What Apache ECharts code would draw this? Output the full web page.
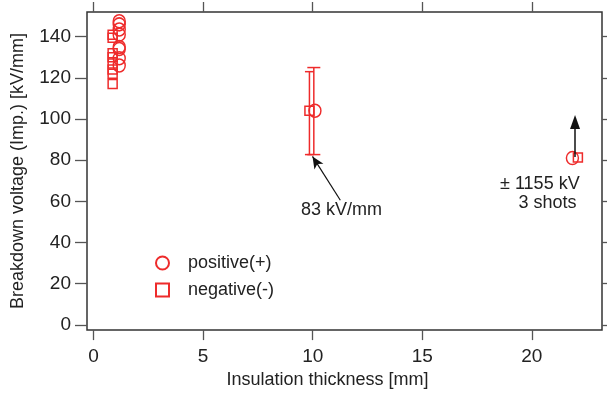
<!DOCTYPE html>
<html>
<head>
<meta charset="utf-8">
<script src="https://cdn.jsdelivr.net/npm/echarts@6/dist/echarts.min.js"></script>
<style>
  html, body { margin: 0; padding: 0; background: #fff; }
  #chart { width: 607px; height: 394px; }
</style>
</head>
<body>
<div id="chart"></div>
<script>
// tick labels
const xTicks = [0, 5, 10, 15, 20];
const yTicks = [0, 20, 40, 60, 80, 100, 120, 140];

// breakdown voltage [kV/mm] vs insulation thickness [mm]
const positive = [
  [1.17, 147.5], [1.17, 146], [1.17, 143.5], [1.17, 141], [1.17, 135],
  [1.17, 134], [1.17, 129.5], [1.17, 126],
  [10.1, 104], [21.85, 81]
];
const negative = [
  [0.87, 141], [0.87, 139.5], [0.87, 132], [0.87, 130], [0.87, 127],
  [0.87, 124], [0.87, 122], [0.87, 117],
  [9.85, 104], [22.1, 81.3]
];
// [x, low, high]
const posErr = [[10.05, 82.7, 125]];
const negErr = [[9.85, 82.7, 123]];

const red = "#ee2b2b";
const font = "Liberation Sans";

const chart = echarts.init(document.getElementById("chart"));

function errBar(capHalf) {
  return function (params, api) {
    const x = api.value(0);
    const lo = api.coord([x, api.value(1)]);
    const hi = api.coord([x, api.value(2)]);
    const st = { stroke: red, lineWidth: 1.5 };
    return {
      type: "group",
      children: [
        { type: "line", shape: { x1: lo[0], y1: lo[1], x2: hi[0], y2: hi[1] }, style: st },
        { type: "line", shape: { x1: lo[0] - capHalf, y1: lo[1], x2: lo[0] + capHalf, y2: lo[1] }, style: st },
        { type: "line", shape: { x1: hi[0] - capHalf, y1: hi[1], x2: hi[0] + capHalf, y2: hi[1] }, style: st }
      ]
    };
  };
}

const tickStyle = { color: "#555", width: 1.3 };

const option = {
  animation: false,
  grid: {
    left: 87, right: 5, top: 12, bottom: 61,
    show: true, borderColor: "#333", borderWidth: 1.5
  },
  legend: {
    orient: "vertical",
    left: 150, top: 249,
    itemWidth: 13, itemHeight: 13, itemGap: 9,
    data: ["positive(+)", "negative(-)"],
    textStyle: { fontFamily: font, fontSize: 18, color: "#222", padding: [0, 0, 0, 14] }
  },
  xAxis: [
    {
      type: "value", min: -0.3, max: 23.2,
      name: "Insulation thickness [mm]", nameLocation: "middle", nameGap: 40,
      nameTextStyle: { fontFamily: font, fontSize: 18, color: "#222", padding: [0, 34, 0, 0] },
      axisLine: { show: false, onZero: false },
      axisTick: { show: true, length: 10, lineStyle: tickStyle, customValues: xTicks },
      axisLabel: { fontFamily: font, fontSize: 19, color: "#222", margin: 17, customValues: xTicks },
      splitLine: { show: false }
    },
    {
      type: "value", min: -0.3, max: 23.2, position: "top",
      axisLine: { show: false, onZero: false },
      axisTick: { show: true, length: 10, lineStyle: tickStyle, customValues: xTicks },
      axisLabel: { show: false },
      splitLine: { show: false }
    }
  ],
  yAxis: [
    {
      type: "value", min: -2.6, max: 152,
      name: "Breakdown voltage (Imp.) [kV/mm]", nameLocation: "middle", nameGap: 60,
      nameTextStyle: { fontFamily: font, fontSize: 18, color: "#222" },
      axisLine: { show: false, onZero: false },
      axisTick: { show: true, length: 12, lineStyle: tickStyle, customValues: yTicks },
      axisLabel: { fontFamily: font, fontSize: 19, color: "#222", margin: 16, customValues: yTicks },
      splitLine: { show: false }
    },
    {
      type: "value", min: -2.6, max: 152, position: "right",
      axisLine: { show: false, onZero: false },
      axisTick: { show: true, length: 8, lineStyle: tickStyle, customValues: yTicks },
      axisLabel: { show: false },
      splitLine: { show: false }
    }
  ],
  series: [
    {
      name: "errors+", type: "custom", renderItem: errBar(6.5), data: posErr, z: 3,
      markLine: {
        silent: true,
        symbol: ["none", "arrow"],
        symbolSize: [8, 12],
        label: { show: false },
        lineStyle: { color: "#111", width: 1.2, type: "solid" },
        data: [
          [{ coord: [11.26, 60.5] }, { coord: [9.99, 81.8] }]
        ]
      }
    },
    {
      name: "errors-", type: "custom", renderItem: errBar(4.5), data: negErr, z: 3,
      markLine: {
        silent: true,
        symbol: ["none", "triangle"],
        symbolSize: [10, 14],
        label: { show: false },
        lineStyle: { color: "#111", width: 1.5, type: "solid" },
        data: [
          [{ coord: [21.97, 81.5] }, { coord: [21.97, 98.5] }]
        ]
      }
    },
    {
      name: "positive(+)", type: "scatter", symbol: "circle", symbolSize: [12, 13],
      data: positive,
      itemStyle: { color: "rgba(255,255,255,0)", borderColor: red, borderWidth: 1.5, opacity: 1 },
      z: 4
    },
    {
      name: "negative(-)", type: "scatter", symbol: "rect", symbolSize: 9,
      data: negative,
      itemStyle: { color: "rgba(255,255,255,0)", borderColor: red, borderWidth: 1.5, opacity: 1 },
      z: 4
    }
  ]
};

chart.setOption(option);

// annotation texts, anchored in data coordinates
const p83 = chart.convertToPixel({ gridIndex: 0 }, [11.31, 55.7]);
const pKv = chart.convertToPixel({ gridIndex: 0 }, [22.18, 68.5]);
const pSh = chart.convertToPixel({ gridIndex: 0 }, [22.04, 59.3]);
const txt = { fontFamily: font, fontSize: 18, fill: "#222" };

chart.setOption({
  graphic: [
    { type: "text", x: p83[0], y: p83[1], style: Object.assign({ text: "83 kV/mm", align: "center", verticalAlign: "middle" }, txt) },
    { type: "text", x: pKv[0], y: pKv[1], style: Object.assign({ text: "± 1155 kV", align: "right", verticalAlign: "middle" }, txt) },
    { type: "text", x: pSh[0], y: pSh[1], style: Object.assign({ text: "3 shots", align: "right", verticalAlign: "middle" }, txt) }
  ]
});
</script>
</body>
</html>
